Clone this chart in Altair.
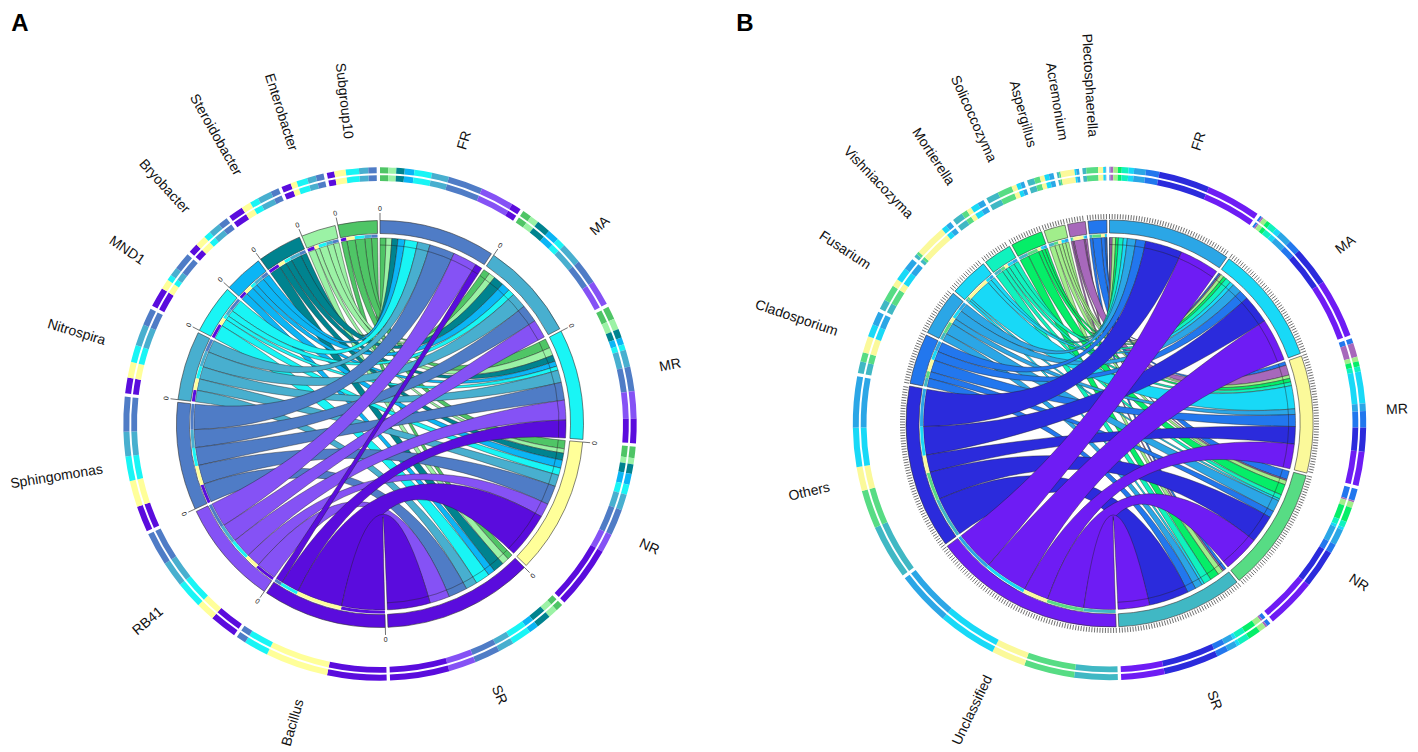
import math
import altair as alt
import pandas as pd

alt.data_transformers.disable_max_rows()

samples = ["FR", "MA", "MR", "NR", "SR"]

# Panel A: links (taxon x sample)
taxa_a = ["Bacillus", "RB41", "Sphingomonas", "Nitrospira", "MND1", "Bryobacter",
          "Steroidobacter", "Enterobacter", "Subgroup10"]
matrix_a = [
    [2.2, 0.0, 5.6, 14.3, 13.5],
    [7.6, 5.8, 6.2, 4.3, 6.2],
    [7.9, 5.6, 5.6, 6.0, 5.9],
    [3.9, 4.9, 3.9, 3.6, 3.6],
    [4.0, 2.0, 1.3, 2.3, 4.5],
    [2.2, 2.7, 1.6, 2.5, 2.2],
    [1.9, 3.2, 2.0, 2.2, 3.4],
    [1.8, 2.0, 2.5, 1.4, 2.2],
    [1.9, 2.1, 3.0, 2.6, 1.7],
]
sample_colors_a = ["#4F7CC6", "#48AFCF", "#19F5F5", "#FFFF99", "#5A0CDD"]
taxa_colors_a = ["#5A0CDD", "#8552F5", "#4F7CC6", "#48AFCF", "#19F5F5", "#0BB5F5",
                 "#00838F", "#9BF2A5", "#4FC566"]

# Panel B
taxa_b = ["Unclassified", "Others", "Cladosporium", "Fusarium", "Vishniacozyma", "Mortierella",
          "Solicoccozyma", "Aspergillus", "Acremonium", "Plectosphaerella"]
matrix_b = [
    [13.0, 14.0, 8.1, 12.0, 10.3],
    [12.1, 9.3, 5.7, 9.1, 13.0],
    [3.2, 3.0, 3.9, 2.2, 2.8],
    [2.8, 3.1, 1.8, 3.8, 2.4],
    [1.3, 1.3, 7.6, 0.7, 0.8],
    [1.6, 1.8, 1.2, 1.4, 2.5],
    [0.9, 1.0, 1.2, 3.5, 3.0],
    [1.1, 1.1, 1.1, 1.4, 1.7],
    [0.7, 0.4, 3.3, 0.4, 0.5],
    [0.2, 0.5, 1.2, 2.8, 0.9],
]
sample_colors_b = ["#2BA6E6", "#18D9F7", "#FBF99A", "#57DC84", "#40B8C4"]
taxa_colors_b = ["#6E1CF4", "#2B2BDC", "#2277EE", "#2BA6E6", "#18D9F7", "#10F2BE",
                 "#05EE68", "#A1EE8B", "#A768BB", "#2277EE"]

GAP = 0.75
R_RIB, R_TRK0, R_TRK1, R_B0, R_B1 = 186.0, 186.5, 189.5, 190.5, 203.5
R_RINGS = [(250.7, 256.7), (243.0, 248.8)]
RIGHT_LIMIT = 1397  # centre of the rightmost label stays inside the drawing area
PULLED_IN = {"Sphingomonas": 281, "Unclassified": 280}  # long labels kept on the page

ribbons, bands, tracks, rings, caps, ticks, zeros, labels_r, labels_c, = [], [], [], [], [], [], [], [], []


def polar(cx, cy, r, deg):
    t = math.radians(deg)
    return cx + r * math.sin(t), cy - r * math.cos(t)


def build(tag, cx, cy, taxa, matrix, scol, tcol, fine_ticks):
    nt, ns = len(taxa), len(samples)
    total = sum(sum(row) for row in matrix) * 2
    k = (360 - GAP * (nt + ns)) / total
    pos = 0.0
    s_slots = {}
    sectors = []
    # samples clockwise: taxa reversed inside
    for j, name in enumerate(samples):
        start = pos
        for i in reversed(range(nt)):
            w = matrix[i][j] * k
            if w > 0:
                s_slots[(i, j)] = (pos, pos + w)
                for r0, r1 in R_RINGS:
                    rings.append(dict(a=pos, b=pos + w, r0=r0, r1=r1, c=tcol[i], x=cx, y=cy))
            pos += w
        sectors.append((name, start, pos, scol[j], True))
        pos += GAP
    t_slots = {}
    for i, name in enumerate(taxa):
        start = pos
        for j in reversed(range(ns)):
            w = matrix[i][j] * k
            if w > 0:
                t_slots[(i, j)] = (pos, pos + w)
                for r0, r1 in R_RINGS:
                    rings.append(dict(a=pos, b=pos + w, r0=r0, r1=r1, c=scol[j], x=cx, y=cy))
                tracks.append(dict(a=pos, b=pos + w, r0=R_TRK0, r1=R_TRK1, c=scol[j], x=cx, y=cy))
            pos += w
        sectors.append((name, start, pos, tcol[i], False))
        pos += GAP
    # ribbons
    for i in reversed(range(nt)):
        for j in range(ns):
            if (i, j) not in s_slots:
                continue
            a1, a2 = s_slots[(i, j)]
            b1, b2 = t_slots[(i, j)]
            pts = []

            def arc(u, v):
                n = max(2, int(abs(v - u) / 1.0) + 2)
                for q in range(n):
                    pts.append(polar(cx, cy, R_RIB, u + (v - u) * q / (n - 1)))

            def bez(u, v):
                p0 = polar(cx, cy, R_RIB, u)
                p2 = polar(cx, cy, R_RIB, v)
                for q in range(1, 24):
                    s = q / 24
                    pts.append(((1 - s) ** 2 * p0[0] + 2 * s * (1 - s) * cx + s ** 2 * p2[0],
                                (1 - s) ** 2 * p0[1] + 2 * s * (1 - s) * cy + s ** 2 * p2[1]))
            arc(a1, a2)
            bez(a2, b1)
            arc(b1, b2)
            bez(b2, a1)
            pts.append(pts[0])
            for n, (px, py) in enumerate(pts):
                ribbons.append(dict(id=f"{tag}{i}_{j}", n=n, px=px, py=py, c=tcol[i]))
    # sector bands, labels, ticks
    for name, a, b, col, is_sample in sectors:
        bands.append(dict(a=a, b=b, r0=R_B0, r1=R_B1, c=col, x=cx, y=cy))
        mid = (a + b) / 2
        if is_sample:
            caps.append(dict(a=a, b=b, r0=179, r1=179, x=cx, y=cy))
            px, py = polar(cx, cy, 296, mid)
            ang = (mid - 90) % 360 if mid < 180 else (mid - 270) % 360
            labels_c.append(dict(t=name, px=min(px, RIGHT_LIMIT), py=py, ang=ang))
        else:
            px, py = polar(cx, cy, PULLED_IN.get(name, 287), mid)
            labels_r.append(dict(t=name, px=px, py=py, ang=(mid - 270) % 360))
        if fine_ticks:
            q = a
            while q <= b:
                x0, y0 = polar(cx, cy, 204.5, q)
                x1, y1 = polar(cx, cy, 209.5, q)
                ticks.append(dict(x0=x0, y0=y0, x1=x1, y1=y1))
                q += 0.75
        else:
            x0, y0 = polar(cx, cy, 203.5, a)
            x1, y1 = polar(cx, cy, 211, a)
            ticks.append(dict(x0=x0, y0=y0, x1=x1, y1=y1))
            zx, zy = polar(cx, cy, 215, a)
            zeros.append(dict(t="0", px=zx, py=zy, ang=a))


build("A", 380, 424, taxa_a, matrix_a, sample_colors_a, taxa_colors_a, False)
build("B", 1109.5, 423.5, taxa_b, matrix_b, sample_colors_b, taxa_colors_b, True)

xs = alt.Scale(domain=[8, 1410], nice=False, zero=False)
ys = alt.Scale(domain=[8, 752], nice=False, zero=False, reverse=True)
X = alt.X("x:Q", scale=xs, axis=None)
Y = alt.Y("y:Q", scale=ys, axis=None)
TH = alt.Theta("a:Q", stack=None, scale=alt.Scale(domain=[0, 360], range=[0, 2 * math.pi]))


def arcs(rows, **mk):
    return alt.Chart(pd.DataFrame(rows)).mark_arc(**mk).encode(
        x=X, y=Y, theta=TH, theta2="b:Q",
        radius=alt.Radius("r1:Q", scale=None), radius2="r0:Q",
        fill=alt.Fill("c:N", scale=None))


ring_layer = arcs(rings)
ribbon_layer = alt.Chart(pd.DataFrame(ribbons)).mark_line(
    stroke="#222222", strokeWidth=0.5, strokeOpacity=0.85, interpolate="linear"
).encode(
    x=alt.X("px:Q", scale=xs, axis=None), y=alt.Y("py:Q", scale=ys, axis=None),
    fill=alt.Fill("c:N", scale=None), detail="id:N", order="n:Q")
band_layer = arcs(bands, stroke="#333333", strokeWidth=0.6)
track_layer = arcs(tracks)
cap_layer = alt.Chart(pd.DataFrame(caps)).mark_arc(
    stroke="#222222", strokeWidth=0.4, strokeOpacity=0.6, fillOpacity=0
).encode(x=X, y=Y, theta=TH, theta2="b:Q",
         radius=alt.Radius("r1:Q", scale=None), radius2="r0:Q")
tick_layer = alt.Chart(pd.DataFrame(ticks)).mark_rule(color="#333333", strokeWidth=0.7).encode(
    x=alt.X("x0:Q", scale=xs, axis=None), y=alt.Y("y0:Q", scale=ys, axis=None),
    x2="x1:Q", y2="y1:Q")


def text(rows, size=14, **mk):
    return alt.Chart(pd.DataFrame(rows)).mark_text(font="Liberation Sans", fontSize=size, color="#111111", **mk).encode(
        x=alt.X("px:Q", scale=xs, axis=None), y=alt.Y("py:Q", scale=ys, axis=None),
        text="t:N", angle=alt.Angle("ang:Q", scale=None))


panel_tags = ["A", "B"]
panel_x = [20, 745]
panel_df = pd.DataFrame({"t": panel_tags, "px": panel_x, "py": [31, 31]})
panel_layer = alt.Chart(panel_df).mark_text(
    font="Liberation Sans", fontSize=24, fontWeight="bold", color="#000000", baseline="alphabetic"
).encode(
    x=alt.X("px:Q", scale=xs, axis=None), y=alt.Y("py:Q", scale=ys, axis=None), text="t:N")

chart = alt.layer(
    ring_layer, ribbon_layer, cap_layer, band_layer, track_layer, tick_layer,
    text(zeros, size=7, align="center", baseline="middle"),
    text(labels_c, align="center", baseline="middle"),
    text(labels_r, align="right", baseline="middle"),
    panel_layer,
).properties(
    width=1402, height=744, padding=0, autosize=alt.AutoSizeParams(type="none")
).configure_view(stroke=None)

chart.save("out.html", embed_options={"renderer": "svg", "actions": False})
